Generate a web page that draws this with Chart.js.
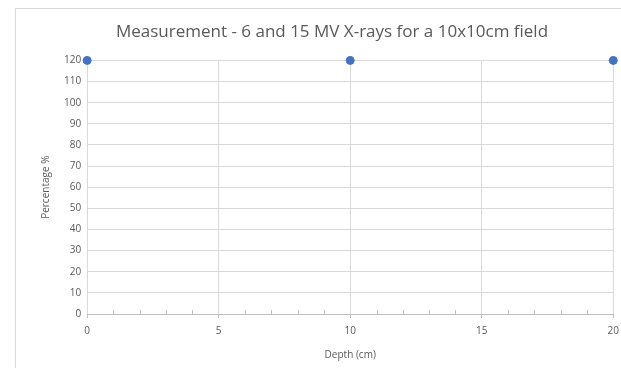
<!DOCTYPE html>
<html>
<head>
<meta charset="utf-8">
<script src="https://cdn.jsdelivr.net/npm/chart.js@4/dist/chart.umd.min.js"></script>
<style>
  html, body { margin: 0; padding: 0; background: #fff; overflow: hidden; width: 621px; height: 368px; }
  #frame { position: absolute; left: 15px; top: 8px; width: 620px; height: 370px; border: 1px solid #d9d9d9; box-sizing: border-box; }
  #wrap { position: absolute; left: 0; top: 0; width: 626px; height: 368px; }
</style>
</head>
<body>
<div id="frame"></div>
<div id="wrap"><canvas id="chart"></canvas></div>
<script>
// data
const depths = [0, 10, 20];
const percentages = [120, 120, 120];
const yTicks = [0, 10, 20, 30, 40, 50, 60, 70, 80, 90, 100, 110, 120];

const textColor = '#595959';
const gridColor = '#d9d9d9';
const fontFamily = "'Open Sans', 'Noto Sans', sans-serif";

// small upward tick marks at each whole cm, like the original
const minorTicks = {
  id: 'minorTicks',
  afterDatasetsDraw(chart) {
    const x = chart.scales.x;
    const y = chart.scales.y;
    const ctx = chart.ctx;
    const base = y.getPixelForValue(0);
    ctx.save();
    ctx.strokeStyle = '#bfbfbf';
    ctx.lineWidth = 1;
    for (let v = 1; v < 20; v++) {
      if (v % 5 === 0) continue;
      const px = Math.round(x.getPixelForValue(v)) + 0.5;
      ctx.beginPath();
      ctx.moveTo(px, base);
      ctx.lineTo(px, base - 4);
      ctx.stroke();
    }
    ctx.restore();
  }
};

new Chart(document.getElementById('chart'), {
  type: 'scatter',
  data: {
    datasets: [{
      label: 'Measurement',
      data: depths.map((d, i) => ({ x: d, y: percentages[i] })),
      backgroundColor: '#4472c4',
      borderColor: '#4472c4',
      pointRadius: 4,
      pointHoverRadius: 4,
      clip: false
    }]
  },
  options: {
    responsive: true,
    maintainAspectRatio: false,
    animation: false,
    layout: { padding: { left: 40, right: 2, top: 22, bottom: 7 } },
    plugins: {
      legend: { display: false },
      tooltip: { enabled: false },
      title: {
        display: true,
        text: 'Measurement - 6 and 15 MV X-rays for a 10x10cm field',
        color: textColor,
        font: { family: fontFamily, size: 17, weight: 'normal' },
        padding: { top: 0, bottom: 18 }
      }
    },
    scales: {
      x: {
        type: 'linear',
        min: 0,
        max: 20,
        ticks: {
          stepSize: 5,
          color: textColor,
          font: { family: fontFamily, size: 10 },
          padding: 7
        },
        grid: {
          color: gridColor,
          tickColor: '#bfbfbf',
          tickLength: 4
        },
        border: { color: '#bfbfbf' },
        title: {
          display: true,
          text: 'Depth (cm)',
          color: textColor,
          font: { family: fontFamily, size: 10 },
          padding: { top: 5, bottom: 0 }
        }
      },
      y: {
        min: 0,
        max: 120,
        afterBuildTicks(scale) {
          scale.ticks = yTicks.map(v => ({ value: v }));
        },
        ticks: {
          color: textColor,
          font: { family: fontFamily, size: 10 },
          padding: 6
        },
        grid: {
          color: gridColor,
          drawTicks: false
        },
        border: { display: false },
        title: {
          display: true,
          text: 'Percentage %',
          color: textColor,
          font: { family: fontFamily, size: 10 },
          padding: { top: 0, bottom: 6 }
        }
      }
    }
  },
  plugins: [minorTicks]
});
</script>
</body>
</html>
